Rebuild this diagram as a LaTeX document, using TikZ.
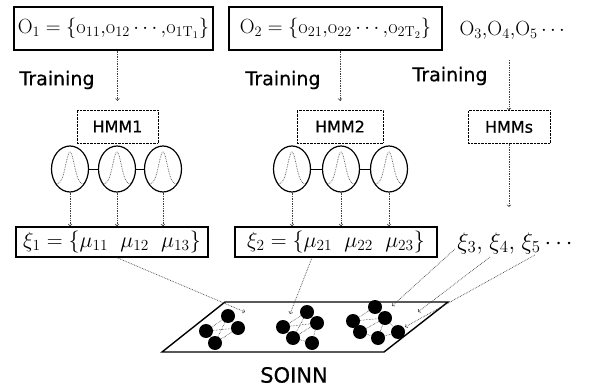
\RequirePackage{fix-cm}
\documentclass[tikz,border=0pt]{standalone}
\usepackage{amsmath}
\usepackage{fontspec}
\newfontfamily\gothic[FakeBold=0.6]{DejaVu Sans}
\usetikzlibrary{arrows,shapes.geometric}

\begin{document}
\begin{tikzpicture}[x=1pt,y=-1pt]
	\tikzset{obsbox/.style={draw, line width=1.4pt, inner sep=0pt, minimum height=43pt, font=\fontsize{20.5}{22}\selectfont},
		hmmbox/.style={draw, densely dotted, inner sep=0pt, minimum height=33pt, font=\gothic\fontsize{16}{18}\selectfont},
		meanbox/.style={draw, line width=1.4pt, inner sep=0pt, minimum height=30pt, font=\fontsize{22}{24}\selectfont},
		state/.style={draw, ellipse, line width=1.2pt, minimum width=37pt, minimum height=46pt, inner sep=0pt},
		flow/.style={->, densely dotted, black!75, line width=0.7pt},
		unit/.style={circle, fill=black, minimum size=14pt, inner sep=0pt},
		link/.style={densely dotted, line width=0.5pt}}
	\useasboundingbox (0,0) rectangle (596,387);

	% observation sequences
	\node[obsbox, minimum width=199pt] (o1) at (113.5,28.5) {$\mathrm{O}_1=\{\mathrm{o}_{11}{,}\mathrm{o}_{12}\cdots{,}\mathrm{o}_{1\mathrm{T}_1}\}$};
	\node[obsbox, minimum width=213pt] (o2) at (335.5,28.5) {$\mathrm{O}_2=\{\mathrm{o}_{21}{,}\mathrm{o}_{22}\cdots{,}\mathrm{o}_{2\mathrm{T}_2}\}$};
	\node[font=\fontsize{20.5}{22}\selectfont] (orest) at (514,30) {$\mathrm{O}_3{,}\mathrm{O}_4{,}\mathrm{O}_5\cdots$};

	\node[font=\gothic\fontsize{19}{21}\selectfont] (tr1) at (57,80) {Training};
	\node[font=\gothic\fontsize{19}{21}\selectfont] (tr2) at (283,80) {Training};
	\node[font=\gothic\fontsize{19}{21}\selectfont] (tr3) at (450,76) {Training};

	\node[hmmbox, minimum width=81pt] (hmm1) at (117.5,126.5) {HMM1};
	\node[hmmbox, minimum width=86pt] (hmm2) at (340,126.5) {HMM2};
	\node[hmmbox, minimum width=82pt] (hmms) at (509,127) {HMMs};

	\draw[flow, shorten >=9pt] (hmm1.north |- o1.south) -- (hmm1.north);
	\draw[flow, shorten >=9pt] (hmm2.north |- o2.south) -- (hmm2.north);
	\draw[flow] (hmms.north |- 0,60) -- (hmms.north);

	% states of the HMMs
	\node[state] (s11) at (70,169) {};
	\node[state] (s12) at (117,169) {};
	\node[state] (s13) at (163,169) {};
	\node[state] (s21) at (292,169) {};
	\node[state] (s22) at (341,169) {};
	\node[state] (s23) at (389,169) {};
	\draw[thick] (s11) -- (s12) -- (s13);
	\draw[thick] (s21) -- (s22) -- (s23);
	\foreach \c in {70,117,163,292,341,389}{
		\draw[densely dotted, black!70, line width=0.7pt] plot[domain=-15:15, samples=31, smooth] ({\c+\x},{184-32*exp(0-(\x/6)*(\x/6))});
	}

	% mean vectors
	\node[meanbox, minimum width=192pt] (xi1) at (112,242) {$\xi_1=\{\mu_{11}\;\;\mu_{12}\;\;\mu_{13}\}$};
	\node[meanbox, minimum width=202pt] (xi2) at (336,242) {$\xi_2=\{\mu_{21}\;\;\mu_{22}\;\;\mu_{23}\}$};
	\node[font=\fontsize{24}{26}\selectfont] (xirest) at (517,243) {$\xi_3{,}\;\xi_4{,}\;\xi_5\cdots$};

	\foreach \s in {s11,s12,s13}
		\draw[flow] (\s) -- (\s |- xi1.north);
	\foreach \s in {s21,s22,s23}
		\draw[flow] (\s) -- (\s |- xi2.north);
	\draw[flow] (hmms) -- (hmms.south |- 0,207);

	% SOINN plane
	\draw[line width=1.4pt] (162,352) -- (225,302) -- (448,302) -- (384,352) -- cycle;
	\node[font=\gothic\fontsize{21}{23}\selectfont] (soinn) at (294,375) {SOINN};

	\node[unit] (u1) at (228,316) {};
	\node[unit] (u2) at (206,331) {};
	\node[unit] (u3) at (238,328) {};
	\node[unit] (u4) at (215,343) {};
	\node[unit] (v1) at (307,312) {};
	\node[unit] (v2) at (283,327) {};
	\node[unit] (v3) at (317,323) {};
	\node[unit] (v4) at (293,338) {};
	\node[unit] (v5) at (312,343) {};
	\node[unit] (w1) at (375,307) {};
	\node[unit] (w2) at (353,321) {};
	\node[unit] (w3) at (385,318) {};
	\node[unit] (w4) at (360,332) {};
	\node[unit] (w5) at (378,338) {};
	\node[unit] (w6) at (398,332) {};
	\foreach \a/\b in {u1/u2,u1/u3,u2/u4,u3/u4,u1/u4,u2/u3,v1/v2,v1/v3,v2/v3,v2/v4,v3/v4,v3/v5,v4/v5,v1/v4,w1/w2,w1/w3,w2/w3,w2/w4,w3/w4,w3/w5,w4/w5,w3/w6,w5/w6}
		\draw[link] (\a) -- (\b);

	\coordinate (x3) at (455,249);
	\coordinate (x4) at (490,257);
	\coordinate (x5) at (535,255);
	\coordinate (t1) at (245,312);
	\coordinate (t2) at (290,314);
	\coordinate (t3) at (392,306);
	\coordinate (t4) at (418,312);
	\coordinate (t5) at (405,327);
	\draw[flow] (s12 |- xi1.south) -- (t1);
	\draw[flow] ([xshift=-24pt]xi2.south) -- (t2);
	\draw[flow] (x3) -- (t3);
	\draw[flow] (x4) -- (t4);
	\draw[flow] (x5) -- (t5);
\end{tikzpicture}
\end{document}
